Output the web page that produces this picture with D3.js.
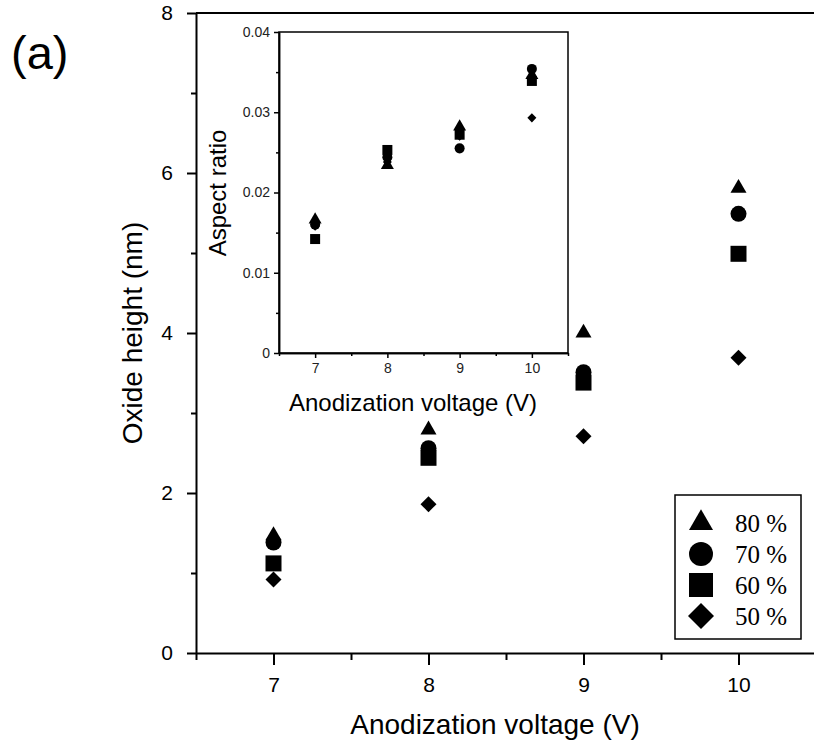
<!DOCTYPE html>
<html>
<head>
<meta charset="utf-8">
<script src="https://cdn.jsdelivr.net/npm/d3@7"></script>
<style>
  html, body { margin: 0; padding: 0; background: #fff; }
  svg { display: block; }
</style>
</head>
<body>
<svg id="chart" width="814" height="747"></svg>
<script>
// Anodization voltage (V)
const voltages = [7, 8, 9, 10];

// Relative humidity series
const seriesNames = ["80 %", "70 %", "60 %", "50 %"];

// Oxide height (nm) per series, at 7, 8, 9, 10 V
const height80 = [1.47, 2.79, 4.00, 5.81];
const height70 = [1.38, 2.56, 3.51, 5.49];
const height60 = [1.12, 2.44, 3.38, 4.99];
const height50 = [0.92, 1.86, 2.71, 3.69];

// Aspect ratio per series, at 7, 8, 9, 10 V
const aspect80 = [0.0166, 0.0234, 0.0282, 0.0346];
const aspect70 = [0.0160, 0.0244, 0.0255, 0.0354];
const aspect60 = [0.0142, 0.0253, 0.0272, 0.0339];
const aspect50 = [0.0158, 0.0238, 0.0270, 0.0293];

// Tick values
const mainYTicks = [0, 2, 4, 6, 8];
const mainYMinor = [1, 3, 5, 7];
const xTicks = [7, 8, 9, 10];
const xMinor = [6.5, 7.5, 8.5, 9.5, 10.5];
const insetYTicks = [0, 0.01, 0.02, 0.03, 0.04];
const insetYMinor = [0.005, 0.015, 0.025, 0.035];

const heights = [height80, height70, height60, height50];
const aspects = [aspect80, aspect70, aspect60, aspect50];

const diamond = {
  draw(context, size) {
    const r = Math.sqrt(size) * 0.62625;
    context.moveTo(0, -r);
    context.lineTo(r, 0);
    context.lineTo(0, r);
    context.lineTo(-r, 0);
    context.closePath();
  }
};
const symbolTypes = [d3.symbolTriangle, d3.symbolCircle, d3.symbolSquare, diamond];
const mainSizes = [111, 201, 256, 163];
const insetSizes = [73, 79, 100, 52];
const legendSizes = [249, 452, 576, 431];

const svg = d3.select("#chart");
const sans = "'Liberation Sans', Arial, sans-serif";
const serif = "'Liberation Serif', 'Times New Roman', serif";
const intFmt = d3.format("d");

// ---------- main panel ----------
const x = d3.scaleLinear().domain([6.5, 10.5]).range([196, 816]);
const y = d3.scaleLinear().domain([0, 8]).range([653, 13]);

const main = svg.append("g");

// frame: top edge
main.append("line")
  .attr("x1", x(6.5)).attr("x2", x(10.5))
  .attr("y1", y(8)).attr("y2", y(8))
  .attr("stroke", "#000").attr("stroke-width", 2);

// y axis
main.append("g")
  .attr("transform", `translate(${x(6.5)},0)`)
  .call(d3.axisLeft(y).tickValues(mainYTicks).tickSize(9).tickSizeOuter(0).tickPadding(14)
    .tickFormat(intFmt));
main.append("g")
  .attr("transform", `translate(${x(6.5)},0)`)
  .call(d3.axisLeft(y).tickValues(mainYMinor).tickSize(5).tickSizeOuter(0).tickFormat(""))
  .call(g => g.select(".domain").remove());

// x axis
main.append("g")
  .attr("transform", `translate(0,${y(0)})`)
  .call(d3.axisBottom(x).tickValues(xTicks).tickSize(12).tickSizeOuter(0).tickPadding(12)
    .tickFormat(intFmt));
main.append("g")
  .attr("transform", `translate(0,${y(0)})`)
  .call(d3.axisBottom(x).tickValues(xMinor).tickSize(7).tickSizeOuter(0).tickFormat(""))
  .call(g => g.select(".domain").remove());

main.selectAll(".domain").attr("stroke-width", 2);
main.selectAll(".tick line").attr("stroke-width", 2);
main.selectAll(".tick text")
  .attr("font-family", sans).attr("font-size", 21).attr("fill", "#000");

// axis titles
main.append("text")
  .attr("x", 495).attr("y", 734)
  .attr("text-anchor", "middle")
  .attr("font-family", sans).attr("font-size", 28)
  .text("Anodization voltage (V)");
main.append("text")
  .attr("transform", `translate(142,${y(4)}) rotate(-90)`)
  .attr("text-anchor", "middle")
  .attr("font-family", sans).attr("font-size", 28)
  .text("Oxide height (nm)");

// panel label
main.append("text")
  .attr("x", 11).attr("y", 69)
  .attr("font-family", sans).attr("font-size", 47)
  .text("(a)");

// markers
heights.forEach((vals, i) => {
  main.append("g").selectAll("path")
    .data(voltages.map((v, j) => [v, vals[j]]))
    .join("path")
    .attr("transform", d => `translate(${x(d[0])},${y(d[1])})`)
    .attr("d", d3.symbol(symbolTypes[i], mainSizes[i]))
    .attr("fill", "#000");
});

// legend
const legend = main.append("g");
legend.append("rect")
  .attr("x", 675).attr("y", 495).attr("width", 126).attr("height", 144)
  .attr("fill", "#fff").attr("stroke", "#000").attr("stroke-width", 1.5);
seriesNames.forEach((name, i) => {
  const cy = 523 + i * 31;
  legend.append("path")
    .attr("transform", `translate(701,${cy})`)
    .attr("d", d3.symbol(symbolTypes[i], legendSizes[i]))
    .attr("fill", "#000");
  legend.append("text")
    .attr("x", 735).attr("y", cy + 9)
    .attr("font-family", serif).attr("font-size", 25)
    .text(name);
});

// ---------- inset panel ----------
const ix = d3.scaleLinear().domain([6.5, 10.5]).range([279, 568]);
const iy = d3.scaleLinear().domain([0, 0.04]).range([353, 32]);

const inset = svg.append("g");
inset.append("rect")
  .attr("x", ix(6.5)).attr("y", iy(0.04))
  .attr("width", ix(10.5) - ix(6.5)).attr("height", iy(0) - iy(0.04))
  .attr("fill", "#fff").attr("stroke", "#000").attr("stroke-width", 1.5);

inset.append("g")
  .attr("transform", `translate(${ix(6.5)},0)`)
  .call(d3.axisLeft(iy).tickValues(insetYTicks).tickSize(5).tickSizeOuter(0).tickPadding(4)
    .tickFormat(d => d === 0 ? "0" : d3.format(".2f")(d)));
inset.append("g")
  .attr("transform", `translate(${ix(6.5)},0)`)
  .call(d3.axisLeft(iy).tickValues(insetYMinor).tickSize(3).tickSizeOuter(0).tickFormat(""));
inset.append("g")
  .attr("transform", `translate(0,${iy(0)})`)
  .call(d3.axisBottom(ix).tickValues(xTicks).tickSize(5).tickSizeOuter(0).tickPadding(5)
    .tickFormat(intFmt));
inset.append("g")
  .attr("transform", `translate(0,${iy(0)})`)
  .call(d3.axisBottom(ix).tickValues(xMinor).tickSize(3).tickSizeOuter(0).tickFormat(""));

inset.selectAll(".domain").attr("stroke-width", 1.5);
inset.selectAll(".tick line").attr("stroke-width", 1.5);
inset.selectAll(".tick text")
  .attr("font-family", sans).attr("font-size", 14).attr("fill", "#222");

inset.append("text")
  .attr("x", 413).attr("y", 411)
  .attr("text-anchor", "middle")
  .attr("font-family", sans).attr("font-size", 24)
  .text("Anodization voltage (V)");
inset.append("text")
  .attr("transform", `translate(226,193) rotate(-90)`)
  .attr("text-anchor", "middle")
  .attr("font-family", sans).attr("font-size", 24)
  .text("Aspect ratio");

aspects.forEach((vals, i) => {
  inset.append("g").selectAll("path")
    .data(voltages.map((v, j) => [v, vals[j]]))
    .join("path")
    .attr("transform", d => `translate(${ix(d[0])},${iy(d[1])})`)
    .attr("d", d3.symbol(symbolTypes[i], insetSizes[i]))
    .attr("fill", "#000");
});
</script>
</body>
</html>
